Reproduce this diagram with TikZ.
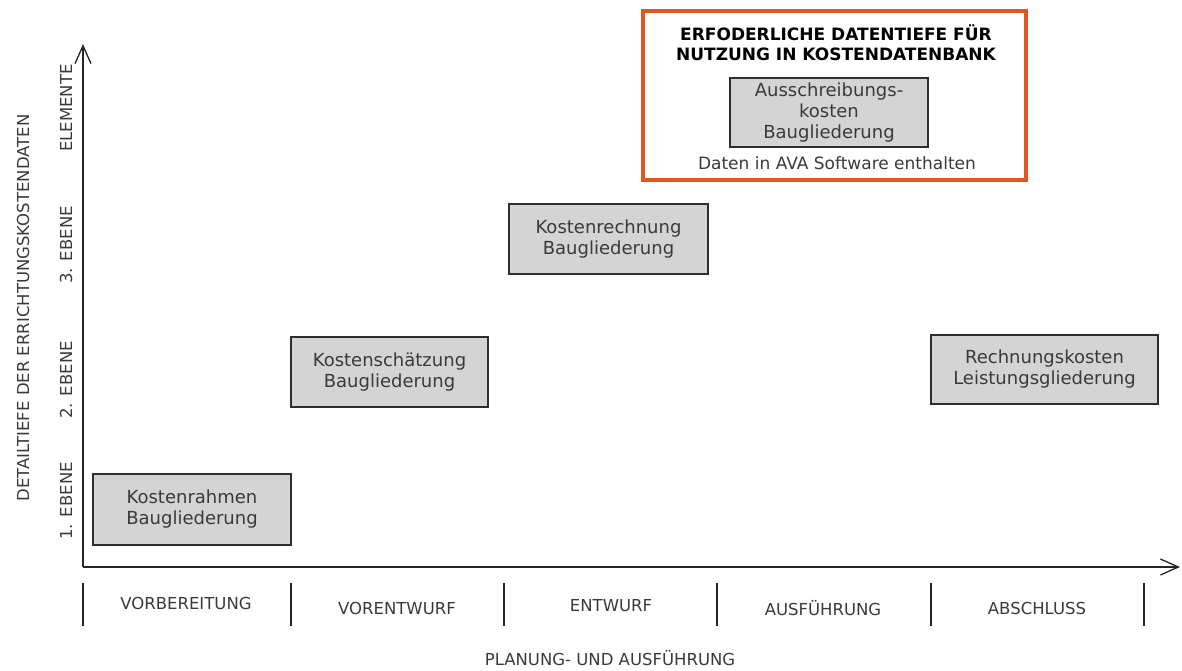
\documentclass[tikz,border=0pt]{standalone}
\usepackage{fontspec}
\setmainfont{DejaVu Sans}
\usetikzlibrary{arrows.meta}
\definecolor{txt}{HTML}{3A3A3A}
\definecolor{boxfill}{HTML}{D4D4D4}
\definecolor{boxline}{HTML}{2E2E2E}
\definecolor{orangeframe}{HTML}{E2561F}
\tikzset{
  costbox/.style={draw=boxline, line width=1.3pt, fill=boxfill, align=center, text=txt,
    font=\fontsize{18}{21}\selectfont, inner sep=0pt},
  axislabel/.style={text=txt, font=\fontsize{16.5}{20}\selectfont, inner sep=0pt},
  axisline/.style={draw=black!85, line width=1.5pt, -{Straight Barb[length=18pt,width=16pt,line width=1.3pt]}},
  sepline/.style={draw=black!85, line width=1.8pt},
  frame/.style={draw=orangeframe, line width=3.5pt},
}
\begin{document}
\begin{tikzpicture}[x=1pt,y=-1pt]
\useasboundingbox (0,0) rectangle (1182,670);

% axes
\coordinate (o) at (83,567);
\coordinate (ytip) at (83,44);
\coordinate (xtip) at (1180,567);
\draw[axisline] (o) -- (ytip);
\draw[axisline] (o) -- (xtip);

% phase separators
\foreach \i/\x in {1/83,2/291,3/504,4/717,5/931,6/1144}{
  \coordinate (s\i t) at (\x,583);
  \coordinate (s\i b) at (\x,626);
  \draw[sepline] (s\i t) -- (s\i b);
}

% phase labels
\node[axislabel] (p1) at (186,603) {VORBEREITUNG};
\node[axislabel] (p2) at (397,608) {VORENTWURF};
\node[axislabel] (p3) at (611,606) {ENTWURF};
\node[axislabel] (p4) at (823,608) {AUSFÜHRUNG};
\node[axislabel] (p5) at (1037,608) {ABSCHLUSS};
\node[axislabel] (xt) at (610,658) {PLANUNG- UND AUSFÜHRUNG};

% level labels
\node[axislabel, rotate=90] (l4) at (66,108) {ELEMENTE};
\node[axislabel, rotate=90] (l3) at (66,245) {3. EBENE};
\node[axislabel, rotate=90] (l2) at (66,380) {2. EBENE};
\node[axislabel, rotate=90] (l1) at (66,501) {1. EBENE};
\node[axislabel, rotate=90] (yt) at (23,308) {DETAILTIEFE DER ERRICHTUNGSKOSTENDATEN};

% orange frame
\draw[frame] (643,11) rectangle (1026,180);
\node[font=\bfseries\fontsize{17}{20}\selectfont, align=center, inner sep=0pt] (title) at (836,43)
  {ERFODERLICHE DATENTIEFE FÜR\\NUTZUNG IN KOSTENDATENBANK};
\node[text=txt, font=\fontsize{17}{20}\selectfont, inner sep=0pt] (ava) at (837,163)
  {Daten in AVA Software enthalten};

% cost boxes
\node[costbox, minimum width=198pt, minimum height=71pt] (kr) at (192,509.5) {Kostenrahmen\\Baugliederung};
\node[costbox, minimum width=197pt, minimum height=70pt] (ks) at (389.5,372) {Kostenschätzung\\Baugliederung};
\node[costbox, minimum width=199pt, minimum height=70pt] (kre) at (608.5,239) {Kostenrechnung\\Baugliederung};
\node[costbox, minimum width=198pt, minimum height=69pt] (ak) at (829,112.5) {Ausschreibungs-\\kosten\\Baugliederung};
\node[costbox, minimum width=227pt, minimum height=69pt] (rk) at (1044.5,369.5) {Rechnungskosten\\Leistungsgliederung};
\end{tikzpicture}
\end{document}
